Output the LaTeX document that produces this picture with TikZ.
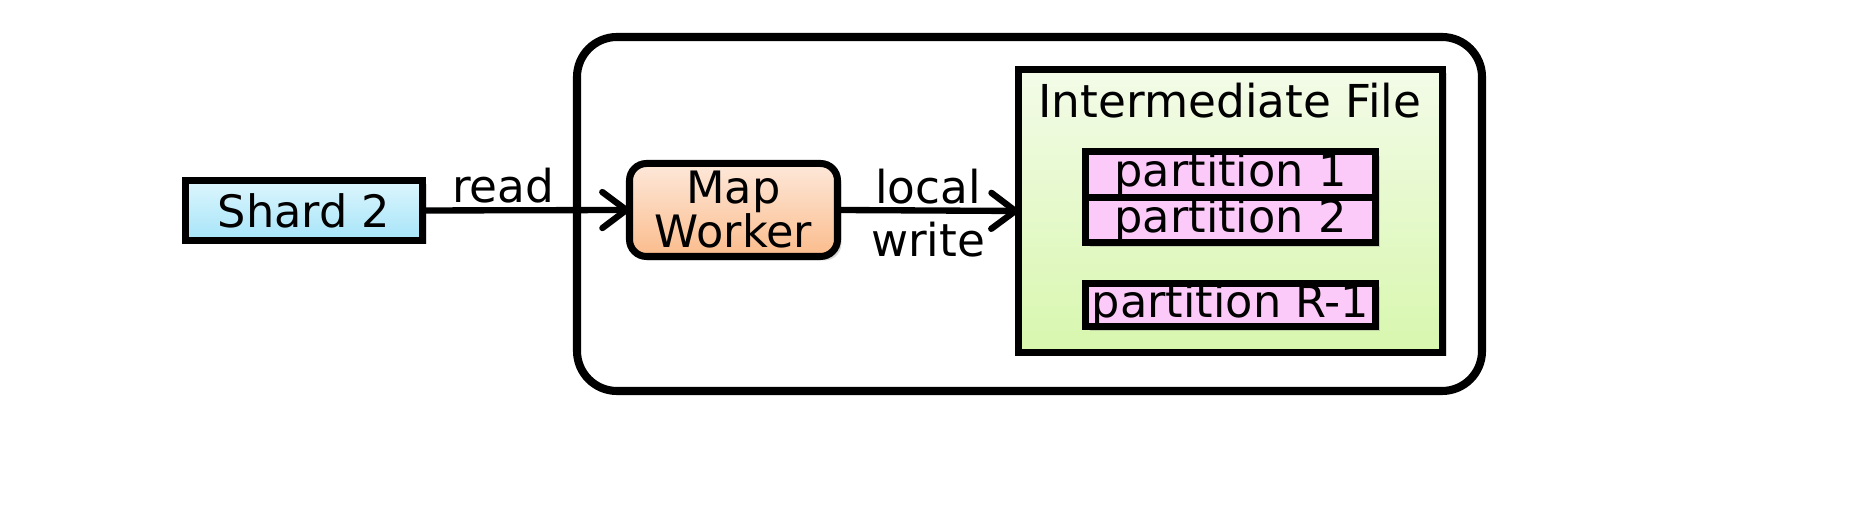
\documentclass[tikz,border=0pt]{standalone}
\usepackage{fontspec}
\setmainfont{DejaVu Sans}
\usepackage{tikz}
\usetikzlibrary{arrows.meta,positioning,shadows}

\definecolor{shardtop}{HTML}{DDF6FD}
\definecolor{shardbot}{HTML}{A6E4F9}
\definecolor{maptop}{HTML}{FDE8DA}
\definecolor{mapbot}{HTML}{FBBC8C}
\definecolor{filetop}{HTML}{F3FBE8}
\definecolor{filebot}{HTML}{D8F7AE}
\definecolor{partfill}{HTML}{FCCAF8}

\tikzset{
  box/.style={draw=black, line width=2pt, outer sep=0pt, inner sep=0pt,
    font=\fontsize{12.7}{15}\selectfont, align=center,
    drop shadow={shadow xshift=0.04cm, shadow yshift=-0.04cm, opacity=0.3}},
  partbox/.style={box, fill=partfill, minimum width=2.90cm, minimum height=0.455cm},
  flow/.style={line width=1.8pt, -{Straight Barb[length=0.24cm,width=0.36cm,round]}},
  lbl/.style={font=\fontsize{12.9}{15.5}\selectfont, inner sep=1pt}
}

\begin{document}
\begin{tikzpicture}
\useasboundingbox (0,0) rectangle (18.68,5.06);

% machine
\node[draw=black, line width=2.3pt, rounded corners=0.4cm, minimum width=9.05cm,
  minimum height=3.54cm] (machine) at (10.295,2.92) {};

% input shard
\node[box, top color=shardtop, bottom color=shardbot, minimum width=2.37cm,
  minimum height=0.60cm] (shard) at (3.04,2.955) {Shard 2};

% map worker
\node[box, top color=maptop, bottom color=mapbot, rounded corners=0.17cm,
  minimum width=2.08cm, minimum height=0.93cm] (map) at (7.335,2.96) {Map\\[-2.5pt]Worker};

% intermediate file
\node[box, top color=filetop, bottom color=filebot, minimum width=4.24cm,
  minimum height=2.83cm] (ifile) at (12.305,2.95) {};
\node[lbl, anchor=base] (ftitle) at (12.30,3.88) {Intermediate File};

\node[partbox] (p1) at (12.305,3.315) {partition 1};
\node[partbox, below=0cm of p1] (p2) {partition 2};
\node[partbox, minimum height=0.43cm] (pr) at (12.305,2.01) {partition R-1};

% arrows
\draw[flow] (shard.east) -- node[lbl, above, pos=0.39] (read) {read} (map.west);
\draw[flow] (map.east) -- node[lbl, above] (local) {local}
  node[lbl, below, inner sep=2.5pt] (write) {write} (ifile.west);
\end{tikzpicture}
\end{document}
